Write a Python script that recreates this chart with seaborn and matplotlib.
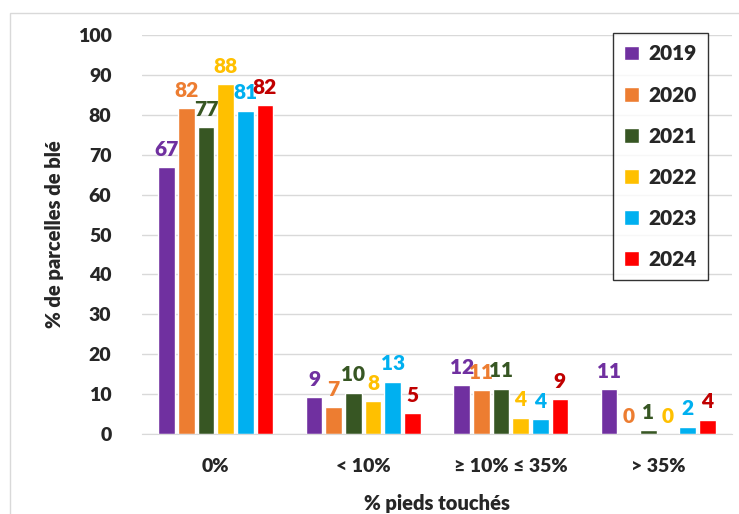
import matplotlib
matplotlib.use("Agg")
import matplotlib.pyplot as plt
import seaborn as sns
import pandas as pd
from matplotlib.patches import Rectangle

categories = ["0%", "< 10%", "≥ 10% ≤ 35%", "> 35%"]
years = ["2019", "2020", "2021", "2022", "2023", "2024"]
v2019 = [66.9, 9.2, 12.3, 11.2]
v2020 = [81.7, 6.8, 11.0, 0.0]
v2021 = [76.9, 10.4, 11.4, 0.9]
v2022 = [87.6, 8.3, 4.1, 0.0]
v2023 = [81.0, 13.1, 3.7, 1.8]
v2024 = [82.4, 5.2, 8.7, 3.6]

bar_colors = ["#7030A0", "#ED7D31", "#375623", "#FFC000", "#00B0F0", "#FF0000"]
label_colors = ["#7030A0", "#ED7D31", "#375623", "#FFC000", "#00B0F0", "#C00000"]

series = [v2019, v2020, v2021, v2022, v2023, v2024]
rows = []
for y, vals in zip(years, series):
    for c, v in zip(categories, vals):
        rows.append({"cat": c, "val": v, "year": y})
df = pd.DataFrame(rows)

sns.set_style("white")
plt.rcParams["font.family"] = ["Lato", "DejaVu Sans"]
plt.rcParams["font.weight"] = "bold"

fig = plt.figure(figsize=(7.39, 5.14), dpi=100)
ax = fig.add_axes([142/739, 1-434/514, (732-142)/739, (434-35)/514])

sns.barplot(data=df, x="cat", y="val", hue="year", order=categories,
            hue_order=years, palette=bar_colors, width=0.8, gap=0.15,
            saturation=1, ax=ax, legend=True)

for cont, col in zip(ax.containers, label_colors):
    ax.bar_label(cont, fmt="%.0f", color=col, fontsize=15, fontweight="heavy",
                 padding=6)

ax.set_ylim(0, 100)
ax.set_yticks(range(0, 101, 10))
ax.yaxis.grid(True, color="#D9D9D9", linewidth=1)
ax.set_axisbelow(True)
for s in ["top", "right", "left"]:
    ax.spines[s].set_visible(False)
ax.spines["bottom"].set_color("#D9D9D9")
ax.tick_params(axis="both", length=0, labelsize=14)
ax.tick_params(axis="y", pad=22)
ax.tick_params(axis="x", pad=17)
for lab in ax.get_xticklabels() + ax.get_yticklabels():
    lab.set_fontweight("heavy")
ax.set_xlabel("% pieds touchés", fontsize=14.5, fontweight="heavy", labelpad=14)
ax.set_ylabel("% de parcelles de blé", fontsize=14.5, fontweight="heavy", labelpad=10)

leg = ax.legend(loc="upper right", bbox_to_anchor=((708-142)/590, 1.005),
                frameon=True, fancybox=False, prop={"weight": "heavy", "size": 15},
                handlelength=0.7, handleheight=0.7, labelspacing=1.06,
                borderpad=0.55, handletextpad=0.45, borderaxespad=0)
leg.get_frame().set_edgecolor("black")
leg.get_frame().set_linewidth(1.0)

fig.patches.append(Rectangle((10/739, -0.1), 1.1, 1-13/514+0.1, transform=fig.transFigure,
                             fill=False, edgecolor="#D9D9D9", linewidth=1))

fig.savefig("out.png", dpi=100)
